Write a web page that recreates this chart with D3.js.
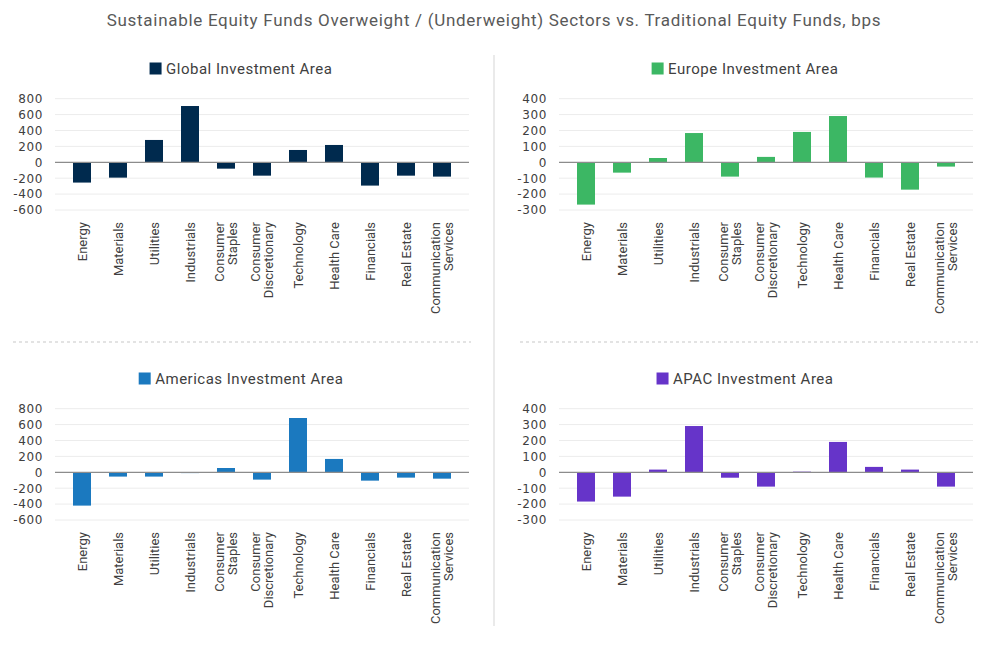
<!DOCTYPE html>
<html>
<head>
	<meta charset="utf-8" />
	<title>Sustainable vs Traditional Equity Funds</title>
	<script src="https://cdn.jsdelivr.net/npm/d3@7/dist/d3.min.js"></script>
	<style>
		body { margin: 0; background: #fff; }
		svg text { font-family: Roboto, "Noto Sans", sans-serif; fill: #404040; }
	</style>
</head>
<body>
	<svg id="chart" width="991" height="646"></svg>
	<script type="text/javascript">
		var sectors = ["Energy", "Materials", "Utilities", "Industrials", "Consumer Staples",
			"Consumer Discretionary", "Technology", "Health Care", "Financials", "Real Estate",
			"Communication Services"];
		// two-line tick labels as drawn in the reference
		var sectorLines = [["Energy"], ["Materials"], ["Utilities"], ["Industrials"], ["Consumer", "Staples"],
			["Consumer", "Discretionary"], ["Technology"], ["Health Care"], ["Financials"], ["Real Estate"],
			["Communication", "Services"]];

		var globalVals   = [-255, -193, 281, 708, -80, -168, 155, 218, -293, -168, -180];
		var europeVals   = [-266, -65, 27, 184, -90, 34, 191, 291, -96, -172, -27];
		var americasVals = [-419, -54, -54, -10, 54, -92, 683, 168, -105, -67, -80];
		var apacVals     = [-184, -153, 17, 291, -34, -90, 4, 191, 34, 17, -90];

		var bigTicks = [800, 600, 400, 200, 0, -200, -400, -600];
		var smallTicks = [400, 300, 200, 100, 0, -100, -200, -300];

		var panels = [
			{ name: "Global Investment Area", vals: globalVals, color: "#002a4e", ticks: bigTicks, ox: 0, oy: 0 },
			{ name: "Europe Investment Area", vals: europeVals, color: "#3cb764", ticks: smallTicks, ox: 504, oy: 0 },
			{ name: "Americas Investment Area", vals: americasVals, color: "#1b79bf", ticks: bigTicks, ox: 0, oy: 310 },
			{ name: "APAC Investment Area", vals: apacVals, color: "#6634c9", ticks: smallTicks, ox: 504, oy: 310 }
		];

		var svg = d3.select("#chart");

		svg.append("text")
			.attr("x", 494).attr("y", 26)
			.attr("text-anchor", "middle")
			.style("font-size", "17px")
			.style("letter-spacing", "0.7px")
			.style("fill", "#595959")
			.text("Sustainable Equity Funds Overweight / (Underweight) Sectors vs. Traditional Equity Funds, bps");

		// separators
		svg.append("line").attr("x1", 494).attr("x2", 494).attr("y1", 55).attr("y2", 626)
			.attr("stroke", "#e3e3e3").attr("stroke-width", 1.5);
		[[13, 471], [520, 978]].forEach(function(s) {
			svg.append("line").attr("x1", s[0]).attr("x2", s[1]).attr("y1", 342).attr("y2", 342)
				.attr("stroke", "#e3e3e3").attr("stroke-width", 2).attr("stroke-dasharray", "3,3");
		});

		function drawPanel(p) {
			var g = svg.append("g").attr("transform", "translate(" + p.ox + "," + p.oy + ")");
			var x = d3.scaleBand().domain(sectors).range([64, 460]).paddingInner(0.5).paddingOuter(0.25);
			var y = d3.scaleLinear().domain([d3.min(p.ticks), d3.max(p.ticks)]).range([210, 98.7]);

			// legend
			var lg = g.append("g");
			lg.append("rect").attr("width", 12).attr("height", 12).attr("y", -11).attr("fill", p.color);
			var lt = lg.append("text").attr("x", 16.5).attr("y", 0)
				.style("font-size", "15px").style("letter-spacing", "0.5px").text(p.name);
			var w = 16.5 + lt.node().getComputedTextLength();
			lg.attr("transform", "translate(" + (241 - w / 2) + ",73.5)");

			// grid
			g.selectAll(".grid").data(p.ticks.filter(function(t) { return t != 0; })).enter()
				.append("line")
				.attr("x1", 55).attr("x2", 469)
				.attr("y1", function(d) { return y(d); }).attr("y2", function(d) { return y(d); })
				.attr("stroke", "#ececec").attr("stroke-width", 1);

			// y labels
			g.selectAll(".ylab").data(p.ticks).enter()
				.append("text")
				.attr("x", 43).attr("y", function(d) { return y(d); })
				.attr("dy", "0.36em")
				.attr("text-anchor", "end")
				.style("font-family", "'DejaVu Sans', sans-serif")
				.style("font-size", "12px")
				.style("letter-spacing", "0.6px")
				.text(function(d) { return d; });

			// bars
			g.selectAll(".bar").data(p.vals).enter()
				.append("rect")
				.attr("x", function(d, i) { return x(sectors[i]); })
				.attr("width", x.bandwidth())
				.attr("y", function(d) { return y(Math.max(0, d)); })
				.attr("height", function(d) { return Math.abs(y(d) - y(0)); })
				.attr("fill", p.color);

			// zero line
			g.append("line").attr("x1", 55).attr("x2", 469).attr("y1", y(0)).attr("y2", y(0))
				.attr("stroke", "#8c8c8c").attr("stroke-width", 1.2);

			// x labels, rotated
			sectorLines.forEach(function(lines, i) {
				var cx = x(sectors[i]) + x.bandwidth() / 2;
				var t = g.append("text")
					.attr("transform", "translate(" + cx + ",222) rotate(-90)")
					.attr("text-anchor", "end")
					.style("font-size", "13px");
				lines.forEach(function(l, j) {
					var off = (j - (lines.length - 1) / 2) * 13.5;
					t.append("tspan").attr("x", 0).attr("y", off).attr("dy", "0.35em").text(l);
				});
			});
		}

		panels.forEach(drawPanel);
	</script>
</body>
</html>
